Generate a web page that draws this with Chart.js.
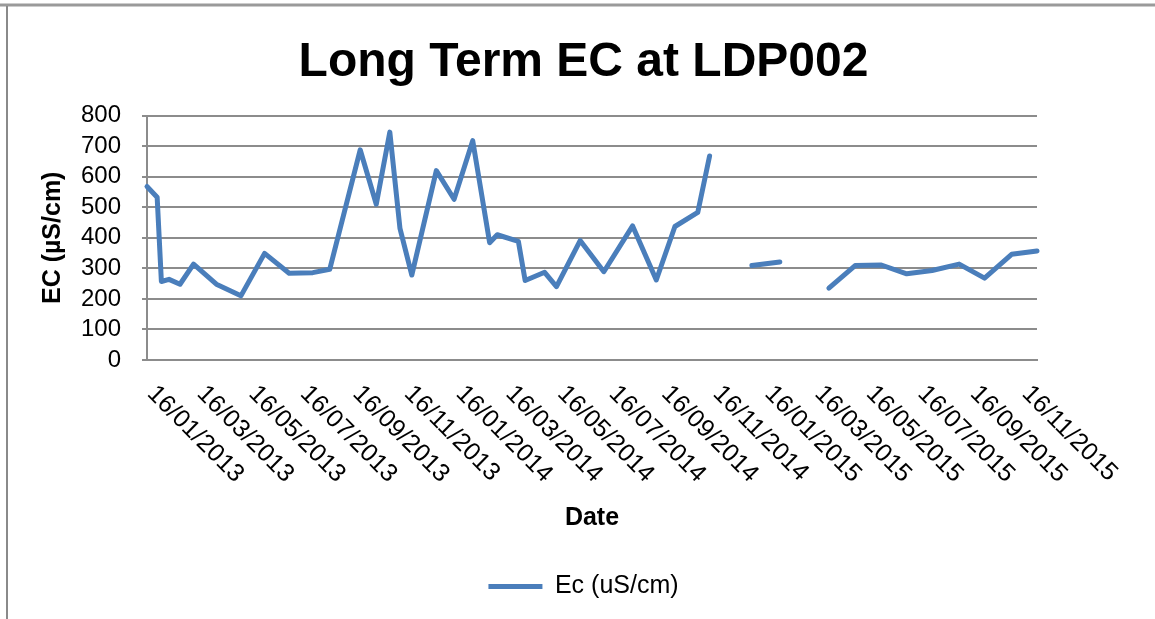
<!DOCTYPE html>
<html>
<head>
<meta charset="utf-8">
<title>Long Term EC at LDP002</title>
<script src="https://cdn.jsdelivr.net/npm/chart.js"></script>
<style>
    body { margin: 0; background: #fff; }
    #contenedor { width: 1155px; height: 619px; position: relative; }
</style>
</head>
<body>
<div id="contenedor">
    <canvas id="ecLargo"></canvas>
</div>
<script>
// sampling dates (dd/mm/yyyy) and EC readings, null = no reading (gap in the line)
var dates = ['16/01/2013', '28/01/2013', '02/02/2013', '11/02/2013', '24/02/2013', '12/03/2013',
    '08/04/2013', '07/05/2013', '04/06/2013', '03/07/2013', '31/07/2013', '20/08/2013',
    '25/09/2013', '14/10/2013', '30/10/2013', '11/11/2013', '25/11/2013', '24/12/2013',
    '14/01/2014', '05/02/2014', '25/02/2014', '06/03/2014', '31/03/2014', '08/04/2014',
    '01/05/2014', '15/05/2014', '12/06/2014', '10/07/2014', '13/08/2014', '10/09/2014',
    '02/10/2014', '29/10/2014', '12/11/2014', '07/12/2014', '01/01/2015', '03/02/2015',
    '04/03/2015', '02/04/2015', '03/05/2015', '03/06/2015', '03/07/2015', '02/08/2015',
    '03/09/2015', '03/10/2015', '04/11/2015', '04/12/2015'];
var ecValues = [568, 533, 257, 264, 248, 314,
    248, 210, 349, 284, 286, 297,
    688, 510, 746, 431, 278, 620,
    526, 718, 384, 410, 388, 260,
    287, 240, 391, 289, 439, 262,
    437, 483, 668, null, 309, 321,
    null, 235, 309, 311, 282, 293,
    314, 268, 346, 357];
var tickLabels = ['16/01/2013', '16/03/2013', '16/05/2013', '16/07/2013', '16/09/2013', '16/11/2013',
    '16/01/2014', '16/03/2014', '16/05/2014', '16/07/2014', '16/09/2014', '16/11/2014',
    '16/01/2015', '16/03/2015', '16/05/2015', '16/07/2015', '16/09/2015', '16/11/2015'];
var yTicks = [0, 100, 200, 300, 400, 500, 600, 700, 800];

var azul = '#4a7ebb';
var gris = '#8c8c8c';

// days since first sample, so the x axis works like Excel's date axis
function toDay(s) {
    var p = s.split('/');
    var first = dates[0].split('/');
    return (Date.UTC(+p[2], +p[1] - 1, +p[0]) - Date.UTC(+first[2], +first[1] - 1, +first[0])) / 86400000;
}

var puntos = dates.map(function(d, i) {
    return { x: toDay(d), y: ecValues[i] };
});

Chart.defaults.font.family = '"Liberation Sans", Arial, sans-serif';
Chart.defaults.color = '#000';

// rotated date labels, text starts at the tick and goes down-right
var etiquetasFecha = {
    id: 'etiquetasFecha',
    afterDraw: function(chart) {
        var ctx = chart.ctx;
        var xs = chart.scales.x;
        ctx.save();
        ctx.font = '25px "Liberation Sans", Arial, sans-serif';
        ctx.fillStyle = '#000';
        ctx.textAlign = 'left';
        ctx.textBaseline = 'middle';
        tickLabels.forEach(function(t) {
            var px = xs.getPixelForValue(toDay(t));
            ctx.save();
            ctx.translate(px + 4, xs.top + 30);
            ctx.rotate(Math.PI / 4);
            ctx.fillText(t, 0, 0);
            ctx.restore();
        });
        ctx.restore();
    }
};

// grey chart frame
var marco = {
    id: 'marco',
    beforeDraw: function(chart) {
        var ctx = chart.ctx;
        ctx.save();
        ctx.strokeStyle = '#9a9a9a';
        ctx.lineWidth = 3;
        ctx.beginPath();
        ctx.moveTo(0, 5);
        ctx.lineTo(1155, 5);
        ctx.stroke();
        ctx.lineWidth = 2;
        ctx.strokeStyle = '#8a8a8a';
        ctx.beginPath();
        ctx.moveTo(7, 6);
        ctx.lineTo(7, 619);
        ctx.stroke();
        ctx.restore();
    }
};

var grafica = document.getElementById('ecLargo');
var ecChart = new Chart(grafica, {
    type: 'line',
    data: {
        datasets: [{
            label: 'Ec (uS/cm)',
            data: puntos,
            borderColor: azul,
            backgroundColor: azul,
            borderWidth: 5,
            borderCapStyle: 'round',
            borderJoinStyle: 'round',
            pointRadius: 0,
            tension: 0,
            spanGaps: false,
            clip: false
        }]
    },
    options: {
        responsive: true,
        maintainAspectRatio: false,
        animation: false,
        layout: { padding: { top: 11, left: 12, right: 0, bottom: 10 } },
        plugins: {
            title: {
                display: true,
                text: 'Long Term EC at LDP002',
                color: '#000',
                font: { size: 48, weight: 'bold' },
                padding: { top: 23, bottom: 24 }
            },
            legend: {
                position: 'bottom',
                labels: {
                    usePointStyle: true,
                    pointStyle: 'line',
                    pointStyleWidth: 54,
                    color: '#000',
                    font: { size: 25 },
                    padding: 10
                }
            },
            tooltip: { enabled: false }
        },
        scales: {
            x: {
                type: 'linear',
                min: toDay(dates[0]),
                max: toDay(dates[dates.length - 1]),
                ticks: { display: false },
                grid: { display: false },
                border: { display: true, color: gris, width: 2 },
                title: {
                    display: true,
                    text: 'Date',
                    color: '#000',
                    font: { size: 25, weight: 'bold' },
                    padding: { top: 135, bottom: 31 }
                }
            },
            y: {
                min: yTicks[0],
                max: yTicks[yTicks.length - 1],
                ticks: { stepSize: 100, autoSkip: false, color: '#000', font: { size: 24 }, padding: 21 },
                grid: { color: gris, lineWidth: 2, tickLength: 5 },
                border: { color: gris, width: 2 },
                title: {
                    display: true,
                    text: 'EC (µS/cm)',
                    color: '#000',
                    font: { size: 25, weight: 'bold' },
                    padding: { top: 26, bottom: 0 }
                },
                afterFit: function(s) { s.width = 135; }
            },
            derecha: {
                type: 'linear',
                position: 'right',
                ticks: { display: false },
                grid: { display: false },
                border: { display: false },
                afterFit: function(s) { s.width = 118; }
            }
        }
    },
    plugins: [etiquetasFecha, marco]
});
</script>
</body>
</html>
